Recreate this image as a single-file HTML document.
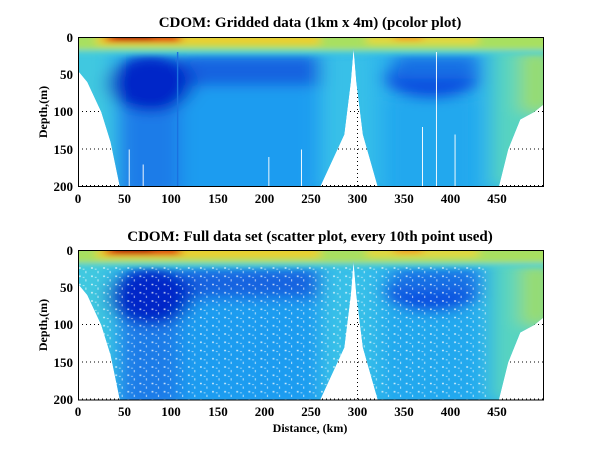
<!DOCTYPE html>
<html><head><meta charset="utf-8"><style>
html,body{margin:0;padding:0;background:#fff}
svg{display:block}
text{font-family:"Liberation Serif",serif;font-weight:bold;fill:#000}
</style></head><body>
<svg width="600" height="451" viewBox="0 0 600 451" xmlns="http://www.w3.org/2000/svg">
<defs>
<filter id="bl" filterUnits="userSpaceOnUse" x="-50" y="-50" width="600" height="300"><feGaussianBlur stdDeviation="10,8"/></filter>
<filter id="bs" filterUnits="userSpaceOnUse" x="-50" y="-50" width="600" height="300"><feGaussianBlur stdDeviation="5,3.5"/></filter>
<clipPath id="shape">
<polygon points="0,0 500,0 500,90 490,100 475,110 462,150 452,200 322,200 306,130 299,60 296,15 293,60 286,130 260,200 45,200 35,140 25,100 10,60 0,45"/>
</clipPath>
<pattern id="speck" width="13" height="11" patternUnits="userSpaceOnUse">
<rect x="1" y="1" width="2" height="2" fill="#fff"/>
<rect x="8" y="6" width="1" height="3" fill="#fff"/>
<rect x="5" y="3" width="2" height="1" fill="#fff"/>
</pattern>
<g id="data">
<g clip-path="url(#shape)">
<rect x="0" y="0" width="500" height="200" fill="#2cb4ec"/>
<g filter="url(#bl)">
<rect x="-20" y="0" width="55" height="200" fill="#40c8e0"/>
<rect x="262" y="20" width="55" height="180" fill="#38c0e8"/>
<rect x="445" y="0" width="70" height="200" fill="#58d4c0"/>
<rect x="475" y="20" width="35" height="80" fill="#98dc70"/>
<rect x="110" y="60" width="150" height="150" fill="#1e9cf0"/>
<rect x="45" y="90" width="65" height="120" fill="#1a7ce8"/>
<rect x="330" y="80" width="100" height="130" fill="#24a8ee"/>
<rect x="110" y="25" width="150" height="40" fill="#1464e0"/>
<ellipse cx="78" cy="62" rx="45" ry="38" fill="#0628c8"/>
<ellipse cx="380" cy="55" rx="50" ry="28" fill="#1050e0"/>
<rect x="340" y="25" width="90" height="30" fill="#1870e4"/>
</g>
<g filter="url(#bs)">
<rect x="-10" y="-5" width="520" height="24" fill="#a8e060"/>
<rect x="-10" y="17" width="520" height="6" fill="#50d0d0"/>
<rect x="20" y="-5" width="240" height="16" fill="#e8d030"/>
<rect x="30" y="-5" width="80" height="12" fill="#e05010"/>
<rect x="40" y="-5" width="40" height="9" fill="#b00000"/>
<rect x="310" y="-5" width="120" height="15" fill="#e0d840"/>
<rect x="340" y="-5" width="30" height="10" fill="#f0a020"/>
</g>
</g>
</g>
</defs>

<g stroke="#000" stroke-width="1" stroke-dasharray="1,3">
<line x1="78" y1="111.5" x2="543" y2="111.5"/><line x1="78" y1="149" x2="543" y2="149"/><line x1="78" y1="185.5" x2="543" y2="185.5"/>
<line x1="124.5" y1="37" x2="124.5" y2="187"/><line x1="171" y1="37" x2="171" y2="187"/><line x1="218" y1="37" x2="218" y2="187"/><line x1="264.5" y1="37" x2="264.5" y2="187"/><line x1="311" y1="37" x2="311" y2="187"/><line x1="357.5" y1="37" x2="357.5" y2="187"/><line x1="404" y1="37" x2="404" y2="187"/><line x1="450.5" y1="37" x2="450.5" y2="187"/><line x1="497" y1="37" x2="497" y2="187"/>
</g>
<text x="310" y="27" font-size="15" text-anchor="middle">CDOM: Gridded data (1km x 4m) (pcolor plot)</text>
<g transform="translate(78,37) scale(0.931,0.75)"><use href="#data"/>
<g stroke="#fff" stroke-width="1">
<line x1="107" y1="20" x2="107" y2="200" stroke="#1a70e0" stroke-width="1.5"/>
<line x1="55" y1="150" x2="55" y2="200"/><line x1="70" y1="170" x2="70" y2="200"/>
<line x1="240" y1="150" x2="240" y2="200"/><line x1="205" y1="160" x2="205" y2="200"/>
<line x1="385" y1="20" x2="385" y2="200"/><line x1="370" y1="120" x2="370" y2="200"/><line x1="405" y1="130" x2="405" y2="200"/>
</g></g>
<rect x="78.5" y="37.5" width="465" height="149" fill="none" stroke="#000"/>
<g font-size="13" text-anchor="end">
<text x="73" y="42">0</text><text x="73" y="79">50</text><text x="73" y="116">100</text><text x="73" y="154">150</text><text x="73" y="191">200</text>
</g>
<g font-size="13" text-anchor="middle">
<text x="78" y="203">0</text><text x="124.5" y="203">50</text><text x="171" y="203">100</text><text x="218" y="203">150</text><text x="264.5" y="203">200</text><text x="311" y="203">250</text><text x="357.5" y="203">300</text><text x="404" y="203">350</text><text x="450.5" y="203">400</text><text x="497" y="203">450</text>
</g>
<text transform="translate(47,112) rotate(-90)" font-size="12" text-anchor="middle">Depth,(m)</text>

<g stroke="#000" stroke-width="1" stroke-dasharray="1,3">
<line x1="78" y1="324.5" x2="543" y2="324.5"/><line x1="78" y1="362" x2="543" y2="362"/><line x1="78" y1="399" x2="543" y2="399"/>
<line x1="124.5" y1="250" x2="124.5" y2="400"/><line x1="171" y1="250" x2="171" y2="400"/><line x1="218" y1="250" x2="218" y2="400"/><line x1="264.5" y1="250" x2="264.5" y2="400"/><line x1="311" y1="250" x2="311" y2="400"/><line x1="357.5" y1="250" x2="357.5" y2="400"/><line x1="404" y1="250" x2="404" y2="400"/><line x1="450.5" y1="250" x2="450.5" y2="400"/><line x1="497" y1="250" x2="497" y2="400"/>
</g>
<text x="310" y="241" font-size="15" text-anchor="middle">CDOM: Full data set (scatter plot, every 10th point used)</text>
<g transform="translate(78,250) scale(0.931,0.75)"><use href="#data"/>
<g clip-path="url(#shape)"><rect x="0" y="20" width="440" height="180" fill="url(#speck)" opacity="0.75"/></g></g>
<rect x="78.5" y="250.5" width="465" height="149.5" fill="none" stroke="#000"/>
<g font-size="13" text-anchor="end">
<text x="73" y="255">0</text><text x="73" y="292">50</text><text x="73" y="329">100</text><text x="73" y="367">150</text><text x="73" y="404">200</text>
</g>
<g font-size="13" text-anchor="middle">
<text x="78" y="416">0</text><text x="124.5" y="416">50</text><text x="171" y="416">100</text><text x="218" y="416">150</text><text x="264.5" y="416">200</text><text x="311" y="416">250</text><text x="357.5" y="416">300</text><text x="404" y="416">350</text><text x="450.5" y="416">400</text><text x="497" y="416">450</text>
</g>
<text transform="translate(47,325) rotate(-90)" font-size="12" text-anchor="middle">Depth,(m)</text>
<text x="310" y="432" font-size="12" text-anchor="middle">Distance, (km)</text>
</svg>
</body></html>
